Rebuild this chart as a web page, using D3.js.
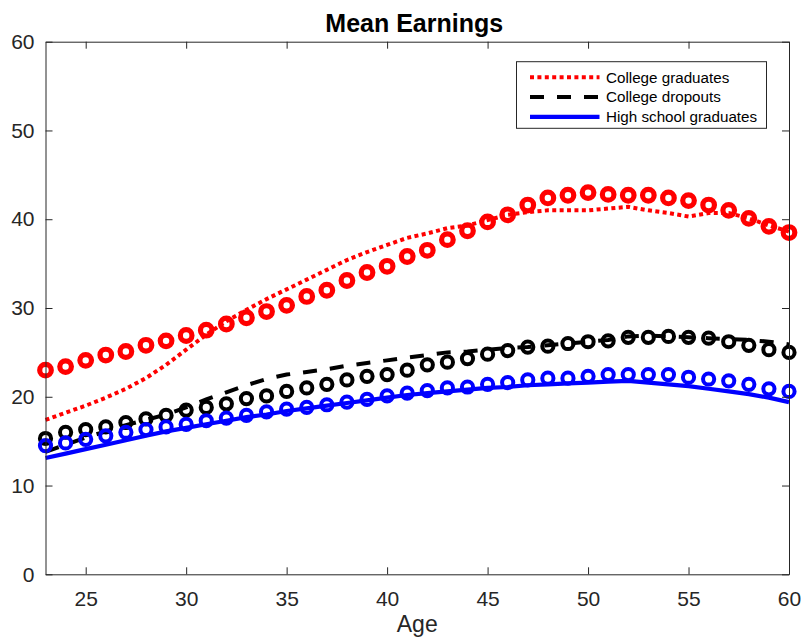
<!DOCTYPE html>
<html>
<head>
<meta charset="utf-8">
<script src="https://cdn.jsdelivr.net/npm/d3@7"></script>
<style>
  html, body { margin: 0; padding: 0; background: #fff; }
  svg { display: block; font-family: "Liberation Sans", Arial, Helvetica, sans-serif; }
</style>
</head>
<body>
<svg id="chart" width="803" height="641"></svg>
<script>
// Ages on the horizontal axis
const ages = [23, 24, 25, 26, 27, 28, 29, 30, 31, 32, 33, 34, 35, 36, 37, 38, 39, 40, 41,
              42, 43, 44, 45, 46, 47, 48, 49, 50, 51, 52, 53, 54, 55, 56, 57, 58, 59, 60];

// Observed mean earnings (lines)
const collegeGradData = [17.4, 18.2, 19.0, 19.9, 20.9, 22.1, 23.6, 25.3, 27.0, 28.5, 29.8, 31.0, 32.1,
  33.2, 34.3, 35.4, 36.3, 37.1, 37.9, 38.4, 39.0, 39.3, 39.9, 40.5, 40.8, 41.0, 41.0, 41.0, 41.2,
  41.4, 41.0, 40.7, 40.3, 40.7, 40.7, 40.1, 39.3, 38.6];
const dropoutData = [13.8, 14.6, 15.4, 16.1, 16.8, 17.4, 18.0, 18.8, 19.7, 20.5, 21.3, 22.0, 22.5,
  22.8, 23.1, 23.5, 23.8, 24.1, 24.4, 24.7, 25.0, 25.1, 25.3, 25.5, 25.6, 25.8, 26.0, 26.2, 26.4,
  26.8, 26.9, 26.8, 26.7, 26.6, 26.5, 26.4, 26.2, 25.9];
const highSchoolData = [13.1, 13.6, 14.1, 14.6, 15.1, 15.6, 16.1, 16.5, 16.9, 17.3, 17.7, 18.0, 18.4,
  18.7, 19.0, 19.3, 19.6, 19.9, 20.2, 20.4, 20.6, 20.8, 21.0, 21.1, 21.3, 21.4, 21.5, 21.6, 21.7,
  21.8, 21.6, 21.4, 21.2, 20.9, 20.6, 20.3, 19.9, 19.4];

// Simulated mean earnings (circle markers)
const collegeGradModel = [23.0, 23.4, 24.1, 24.7, 25.1, 25.8, 26.3, 26.9, 27.5, 28.2, 28.9, 29.6, 30.3,
  31.3, 32.0, 33.1, 34.0, 34.7, 35.8, 36.5, 37.7, 38.7, 39.7, 40.5, 41.6, 42.4, 42.7, 43.0, 42.8,
  42.7, 42.7, 42.4, 42.1, 41.6, 41.0, 40.1, 39.2, 38.5];
const dropoutModel = [15.3, 16.0, 16.3, 16.6, 17.1, 17.5, 17.9, 18.5, 18.8, 19.2, 19.8, 20.1, 20.6,
  21.0, 21.4, 21.9, 22.3, 22.5, 23.0, 23.6, 23.9, 24.3, 24.8, 25.2, 25.6, 25.7, 26.0, 26.2, 26.3,
  26.7, 26.7, 26.8, 26.7, 26.6, 26.2, 25.8, 25.3, 25.0];
const highSchoolModel = [14.5, 14.8, 15.2, 15.6, 16.0, 16.3, 16.6, 16.9, 17.3, 17.6, 17.9, 18.3, 18.6,
  18.8, 19.1, 19.4, 19.7, 20.1, 20.4, 20.7, 21.0, 21.1, 21.4, 21.6, 21.9, 22.1, 22.1, 22.3, 22.5,
  22.5, 22.5, 22.5, 22.2, 22.0, 21.8, 21.4, 20.9, 20.6];

const seriesNames = ["College graduates", "College dropouts", "High school graduates"];
const seriesColors = ["#ff0000", "#000000", "#0000ff"];
const seriesDash = ["4,3.4", "14,13", null];

const xTicks = [25, 30, 35, 40, 45, 50, 55, 60];
const yTicks = [0, 10, 20, 30, 40, 50, 60];

const titleText = "Mean Earnings";
const xLabelText = "Age";

// Layout
const margin = { left: 45.5, right: 14, top: 41.7, bottom: 66.7 };
const W = 803, H = 641;
const svg = d3.select("#chart");
const axisColor = "#262626";

const x = d3.scaleLinear().domain([23, 60]).range([margin.left, W - margin.right]);
const y = d3.scaleLinear().domain([0, 60]).range([H - margin.bottom, margin.top]);

// Lines
const lineGen = d3.line().x((d, i) => x(ages[i])).y(d => y(d));
const lineSets = [collegeGradData, dropoutData, highSchoolData];
const markerSets = [collegeGradModel, dropoutModel, highSchoolModel];
const lineWidths = [4, 4, 4.2];

lineSets.forEach((vals, k) => {
  svg.append("path")
    .datum(vals)
    .attr("fill", "none")
    .attr("stroke", seriesColors[k])
    .attr("stroke-width", lineWidths[k])
    .attr("stroke-dasharray", seriesDash[k])
    .attr("d", lineGen);
});

// Open circle markers
markerSets.forEach((vals, k) => {
  svg.append("g")
    .selectAll("circle")
    .data(vals)
    .join("circle")
    .attr("cx", (d, i) => x(ages[i]))
    .attr("cy", d => y(d))
    .attr("r", k === 0 ? 5.8 : 5.6)
    .attr("fill", "none")
    .attr("stroke", seriesColors[k])
    .attr("stroke-width", k === 0 ? 5.2 : 4.0);
});

// Axes (ticks pointing inward, box on)
const tickLen = 7;
const xAxisBottom = d3.axisBottom(x).tickValues(xTicks).tickSizeInner(-tickLen).tickSizeOuter(0).tickPadding(17);
const xAxisTop = d3.axisTop(x).tickValues(xTicks).tickSizeInner(-tickLen).tickSizeOuter(0).tickFormat("");
const yAxisLeft = d3.axisLeft(y).tickValues(yTicks).tickSizeInner(-tickLen).tickSizeOuter(0).tickPadding(11);
const yAxisRight = d3.axisRight(y).tickValues(yTicks).tickSizeInner(-tickLen).tickSizeOuter(0).tickFormat("");

function styleAxis(g) {
  g.select(".domain").attr("stroke", axisColor).attr("stroke-width", 1);
  g.selectAll(".tick line").attr("stroke", axisColor).attr("stroke-width", 1);
  g.selectAll(".tick text").attr("fill", axisColor).attr("font-size", 21)
    .attr("font-family", "'Liberation Sans', Arial, Helvetica, sans-serif");
}

svg.append("g").attr("transform", `translate(0,${y(0)})`).call(xAxisBottom).call(styleAxis);
svg.append("g").attr("transform", `translate(0,${y(60)})`).call(xAxisTop).call(styleAxis);
svg.append("g").attr("transform", `translate(${x(23)},0)`).call(yAxisLeft).call(styleAxis);
svg.append("g").attr("transform", `translate(${x(60)},0)`).call(yAxisRight).call(styleAxis);

// Title and axis label
const cx = (x.range()[0] + x.range()[1]) / 2;
svg.append("text")
  .attr("x", cx - 3).attr("y", 31.5)
  .attr("text-anchor", "middle")
  .attr("font-size", 25).attr("font-weight", "bold")
  .attr("fill", "#000")
  .text(titleText);

svg.append("text")
  .attr("x", cx).attr("y", 632)
  .attr("text-anchor", "middle")
  .attr("font-size", 23)
  .attr("fill", axisColor)
  .text(xLabelText);

// Legend
const legend = svg.append("g").attr("transform", "translate(516.5,61.7)");
legend.append("rect")
  .attr("width", 250).attr("height", 66.6)
  .attr("fill", "#fff")
  .attr("stroke", axisColor).attr("stroke-width", 1);

seriesNames.forEach((name, k) => {
  const rowY = 15.5 + k * 19.8;
  legend.append("line")
    .attr("x1", 13.5).attr("x2", 83)
    .attr("y1", rowY).attr("y2", rowY)
    .attr("stroke", seriesColors[k])
    .attr("stroke-width", lineWidths[k])
    .attr("stroke-dasharray", seriesDash[k]);
  legend.append("text")
    .attr("x", 89.5).attr("y", rowY)
    .attr("dy", "0.35em")
    .attr("font-size", 15.2)
    .attr("fill", "#000")
    .text(name);
});
</script>
</body>
</html>
